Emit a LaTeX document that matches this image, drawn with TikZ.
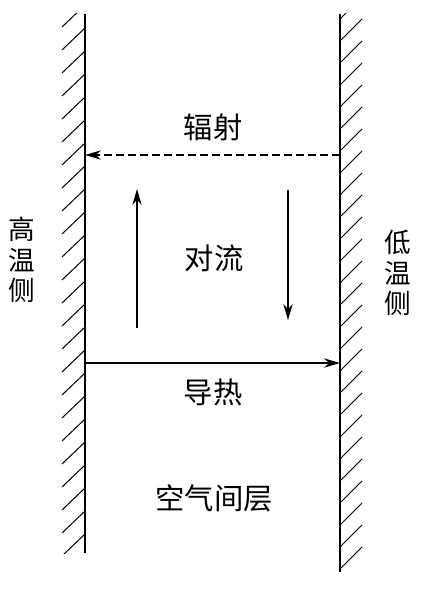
\documentclass[tikz,border=0pt]{standalone}
\usepackage{fontspec}
\newfontfamily\cjk{Noto Sans CJK SC}
\usetikzlibrary{arrows.meta}

\begin{document}
\begin{tikzpicture}[
  x=0.75pt, y=-0.75pt,
  wall/.style={line width=1.8pt},
  hatch/.style={line width=0.75pt},
  txt/.style={font=\cjk\fontsize{22}{24}\selectfont, inner sep=0pt},
  sidetxt/.style={txt, align=center, font=\cjk\fontsize{20}{23}\selectfont},
  flow/.style={line width=0.9pt, -{Stealth[length=12pt, width=7pt]}}
]
\useasboundingbox (0,0) rectangle (421,595);

% walls
\coordinate (lt) at (85,14);
\coordinate (lb) at (85,553);
\coordinate (rt) at (340,14);
\coordinate (rb) at (340,572);
\draw[wall] (lt) -- (lb);
\draw[wall] (rt) -- (rb);

% hatching
\begin{scope}
  \clip (55,14) rectangle (86,553);
  \foreach \y in {5,28,...,540}
    \draw[hatch] (85,\y) -- (62,\y+22);
\end{scope}
\begin{scope}
  \clip (339,14) rectangle (370,572);
  \foreach \y in {19,41,...,575}
    \draw[hatch] (340,\y) -- (362,\y-22);
\end{scope}

% heat paths
\coordinate (rad r) at (340,155);
\coordinate (rad l) at (85,155);
\coordinate (cond l) at (85,363);
\coordinate (cond r) at (340,363);
\coordinate (up b) at (137,328);
\coordinate (up t) at (137,189);
\coordinate (down t) at (288,190);
\coordinate (down b) at (288,320);
\draw[flow, dashed, dash pattern=on 6pt off 3pt] (rad r) -- (rad l);
\draw[flow] (cond l) -- (cond r);
\draw[flow] (up b) -- (up t);
\draw[flow] (down t) -- (down b);

% labels
\node[txt] (rad) at (213,127) {辐射};
\node[txt] (conv) at (214,258) {对流};
\node[txt] (cond) at (213,392) {导热};
\node[txt] (air) at (214,498) {空气间层};
\node[sidetxt] (hot) at (22,260) {高\\温\\侧};
\node[sidetxt] (cold) at (398,273) {低\\温\\侧};
\end{tikzpicture}
\end{document}
